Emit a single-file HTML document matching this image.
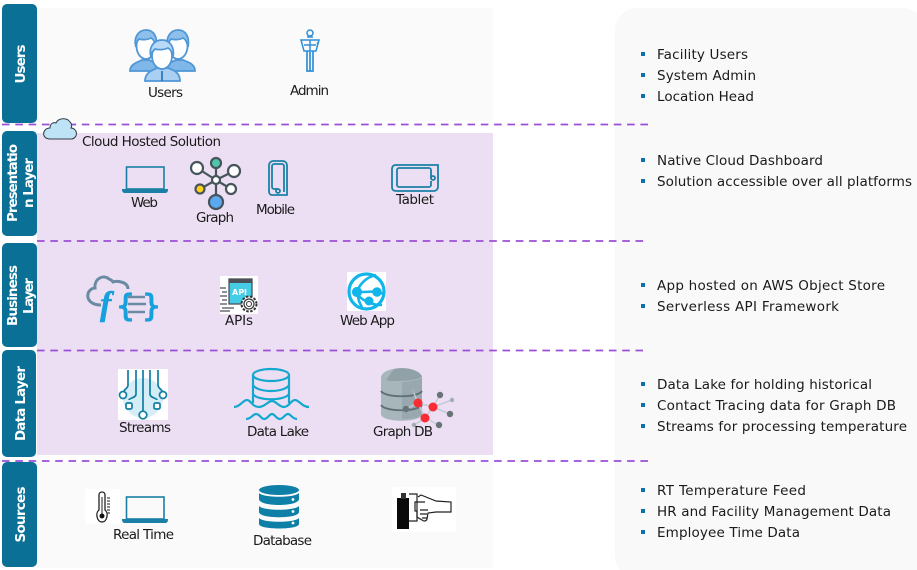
<!DOCTYPE html>
<html><head><meta charset="utf-8"><style>
html,body{margin:0;padding:0;background:#fff;width:917px;height:570px;overflow:hidden}
svg{display:block;filter:blur(.3px)}
text{font-family:"DejaVu Sans","Liberation Sans",sans-serif;font-size:13.5px;fill:#1a1a1a}
.t{fill:#fff;font-weight:bold;font-size:13.5px;text-anchor:middle}
.d{stroke:#9b4fd6;stroke-width:1.8;stroke-dasharray:7.6 5.7;fill:none}
.b{fill:#0a72a8}
</style></head><body>
<svg width="917" height="570" viewBox="0 0 917 570" xmlns="http://www.w3.org/2000/svg">
<rect x="37" y="8" width="456" height="113" fill="#fafafa"/>
<rect x="37" y="133" width="456" height="322" fill="#ecdff3"/>
<rect x="37" y="462" width="456" height="106" fill="#fafafa"/>
<rect x="615" y="8" width="310" height="570" rx="22" fill="#f9f9f9"/>

<rect x="2" y="4" width="35" height="119" rx="5" fill="#0b7095"/>
<rect x="2" y="131" width="35" height="105" rx="5" fill="#0b7095"/>
<rect x="2" y="243" width="35" height="104" rx="5" fill="#0b7095"/>
<rect x="2" y="350" width="34" height="107" rx="5" fill="#0b7095"/>
<rect x="2" y="462" width="35" height="105" rx="5" fill="#0b7095"/>
<text class="t" transform="translate(25,64) rotate(-90)" textLength="39">Users</text>
<text class="t" transform="translate(17,183) rotate(-90)" textLength="78">Presentatio</text>
<text class="t" transform="translate(33,183) rotate(-90)" textLength="50">n Layer</text>
<text class="t" transform="translate(17,295.500) rotate(-90)" textLength="61">Business</text>
<text class="t" transform="translate(33,296) rotate(-90)" textLength="36">Layer</text>
<text class="t" transform="translate(25,403.500) rotate(-90)" textLength="75">Data Layer</text>
<text class="t" transform="translate(25,514.500) rotate(-90)" textLength="56">Sources</text>

<line class="d" x1="2" y1="124.500" x2="648" y2="124.500"/>
<line class="d" x1="37" y1="241" x2="648" y2="241"/>
<line class="d" x1="37" y1="350.500" x2="643" y2="350.500"/>
<line class="d" x1="2" y1="461" x2="648" y2="461"/>

<!-- users icon -->
<g stroke="#4f97d6" stroke-width="1.800">
<path d="M130 71c0-7 8-9 12-11h7c5 2 12 4 12 11z" fill="#7fb7e8"/><ellipse cx="146" cy="46" rx="9.500" ry="13" fill="#fff"/><path d="M136 47c-3-10 3-17 10-17 7 0 12 6 10 17-1-6-3-8-5-9-4 2-9 2-12 1-2 2-3 4-3 8z" fill="#8fc0ec"/>
<path d="M164 71c0-7 8-9 12-11h7c5 2 12 4 12 11z" fill="#7fb7e8"/><ellipse cx="178" cy="46" rx="9.500" ry="13" fill="#fff"/><path d="M168 47c-3-10 3-17 10-17 7 0 12 6 10 17-1-6-3-8-5-9-4 2-9 2-12 1-2 2-3 4-3 8z" fill="#8fc0ec"/>
<path d="M145 81c0-9 8-11 12-13h11c5 2 12 4 12 13z" fill="#a9d0f3"/><ellipse cx="162" cy="56" rx="10" ry="13" fill="#fff"/><path d="M151 57c-3-11 4-17 11-17 7 0 13 6 11 17-1-6-3-8-5-9-4 2-10 2-13 1-2 2-4 4-4 8z" fill="#b9daf6"/>
<path d="M162 71v10" stroke="#2f78b8"/>
</g>
<!-- admin -->
<g fill="none" stroke="#2f8fd6" stroke-width="1.500">
<circle cx="310" cy="33" r="3"/><path d="M301 40h18l-3 11h-12zM307 37h6M310 40v11M304 45h12M319 41l-2 3"/>
<path d="M307 51v20h6V51M310 51v20" stroke-width="1.700"/>
</g>
<!-- cloud -->
<path d="M50 139c-9 0-8-11 0-11 0-5 4-6 6-5 2-5 11-6 14-1 2 2 2 4 1 6 6 0 8 9 1 11z" fill="#bfe3f6" stroke="#333c44" stroke-width="1"/>
<!-- laptop -->
<g id="lap"><rect x="126.500" y="167" width="37.500" height="22" fill="none" stroke="#1a80a6" stroke-width="1.600"/><path d="M122 189h46c0 3-1 4-3 4h-40c-2 0-3-1-3-4z" fill="#1a80a6"/></g>
<use href="#lap" y="330"/>
<!-- graph -->
<g stroke="#47555b" stroke-width="2.200" fill="#fff">
<path d="M216 180L197 168M216 180L216 163M216 180L234 171M216 180L231 189M216 180L216 202M216 180L200 189"/>
<circle cx="197" cy="168" r="6"/><circle cx="216" cy="163" r="5" fill="#4fc5ae"/><circle cx="234" cy="171" r="6"/><circle cx="231" cy="189" r="5"/><circle cx="216" cy="202" r="7" fill="#5aa9f0"/><circle cx="200" cy="189" r="4.500" fill="#ffd21a"/><circle cx="216" cy="180" r="4"/>
</g>
<!-- mobile, tablet -->
<g fill="none" stroke="#1a80a6" stroke-width="1.800">
<path d="M287 195h-15c-2 0-3-2-3-4v-26c0-2 2-4 4-4h10c2 0 4 2 4 4z"/><path d="M284 192v-26c0-1-1-2-2-2h-8c-1 0-2 1-2 2v21c0 1 1 2 2 2h4"/><circle cx="278" cy="191" r="2"/>
<path d="M438 165h-42c-3 0-4 2-4 4v18c0 3 2 4 4 4h38c2 0 4-2 4-4z"/><path d="M431 178v-8c0-1-1-2-2-2h-30c-1 0-2 1-2 2v15c0 1 1 2 2 2h30c1 0 2-1 2-2v-4"/><circle cx="433" cy="178" r="2"/>
</g>
<!-- function -->
<path d="M101 305c-17 0-16-16-6-17-1-9 8-14 14-9 3 1 3 2 4 3 3-1 15-1 15 7" fill="none" stroke="#6a8ba3" stroke-width="3"/>
<text x="100" y="315" style="font-size:34px;font-style:italic;font-weight:bold;fill:#16a0dc;stroke:#16a0dc;stroke-width:.5;font-family:'Liberation Serif',serif">f</text>
<text x="116" y="316" style="font-size:30px;fill:#16a0dc;stroke:#16a0dc;stroke-width:1.200">{</text>
<text x="142" y="316" style="font-size:30px;fill:#16a0dc;stroke:#16a0dc;stroke-width:1.200">}</text>
<path d="M128 297h17M128 304h18M128 312h17" stroke="#6a8ba3" stroke-width="2.500"/>
<!-- API -->
<rect x="220" y="276" width="38" height="38" fill="#fff"/>
<rect x="229" y="279" width="23" height="25" fill="#45cde8" stroke="#4b5157" stroke-width="1.300"/>
<rect x="229" y="279" width="23" height="4" fill="#4b5157"/>
<text x="232" y="295" style="font-size:8px;font-weight:bold;fill:#fff">API</text>
<path d="M220 288h6M222 292h5M220 296h7M222 300h5M220 304h7M222 308h12M220 311h10" stroke="#4b5157" stroke-width="1.300"/>
<circle cx="249" cy="304" r="7.500" fill="#fff" stroke="#333" stroke-width="2" stroke-dasharray="2.500 1.500"/><circle cx="249" cy="304" r="5" fill="#fff" stroke="#333" stroke-width="1.200"/><circle cx="249" cy="304" r="2.500" fill="#fff" stroke="#333"/>
<!-- web app -->
<rect x="347" y="272" width="39" height="39" fill="#fff"/>
<g fill="none" stroke="#12b5ea" stroke-width="2.600">
<circle cx="366.500" cy="291.500" r="17.500" stroke-width="3.200"/>
<path d="M357 292c3-9 10-15 19-17M357 292c4 0 14 0 20-1 3 3 5 2 8 3M358 295c3 4 9 7 13 8 3 2 8 2 11 2M358 295c0 5 2 9 4 12"/>
<circle cx="357" cy="292" r="3.800" fill="#12b5ea"/><circle cx="377" cy="292" r="3.500" fill="#12b5ea"/><circle cx="369" cy="301" r="3.200" fill="#12b5ea"/>
</g>
<!-- streams -->
<rect x="118" y="369" width="50" height="51" fill="#fff"/>
<ellipse cx="143" cy="398" rx="20" ry="20" fill="#d4edf6"/>
<g fill="none" stroke="#127ea3" stroke-width="1.700">
<path d="M128 370v15c0 4-5 4-5 9M136 370v24c0 4-7 4-7 6M143 370v42M150 370v24c0 4 7 4 7 6M158 370v15c0 4 5 4 5 9"/>
<circle cx="123" cy="395" r="3.500" fill="#fff"/><rect x="126" y="403" width="6" height="6" rx="1.500" fill="#fff"/><circle cx="143" cy="415" r="3.800" fill="#fff"/><rect x="154" y="403" width="6" height="6" rx="1.500" fill="#fff"/><circle cx="163" cy="395" r="3.500" fill="#fff"/>
</g>
<!-- data lake -->
<g fill="none" stroke="#15a8cf" stroke-width="2.200">
<ellipse cx="271" cy="375" rx="18" ry="6"/>
<path d="M253 375v28M289 375v28M253 385c4 8 32 8 36 0M253 394c4 7 32 7 36 0"/>
<path d="M234 407C240 407 243 400 247 400C251 400 252 407 259 407C265 407 268 401 272 401C276 401 279 407 284 407C289 407 291 400 295 400C299 400 302 407 309 407"/>
<path d="M246 419C251 419 253 414 256 414C260 414 261 419 264 419C268 419 269 414 272 414C275 414 276 419 280 419C283 419 285 414 288 414C291 414 292 419 297 419"/>
</g>
<!-- graph db -->
<path d="M381 378c0-13 41-13 41 0v36c0 9-41 9-41 0z" fill="#a7b6bb"/>
<path d="M394 369c9-2 22-1 28 7-1 3-13 5-27 5-4 0-6 0-9-1z" fill="#90a1a7"/>
<path d="M402 382v37c10 0 20-2 20-5v-36c-4 2-14 4-20 4z" fill="#98a8ae"/>
<path d="M381 391c4 7 37 7 41 0M381 405c4 7 37 7 41 0" fill="none" stroke="#5e7077" stroke-width="1.800"/>
<g stroke="#c3cad6" stroke-width="1.500" fill="none"><path d="M406 409l12-6 15 4 7-12M433 407l17 7M433 407l19-7M418 403l-5-12M425 418l14 7M425 418l-11 7M418 403l7 15 8-11"/></g>
<g fill="#687378"><circle cx="406" cy="409" r="3.200"/><circle cx="440" cy="395" r="3.200"/><circle cx="450" cy="414" r="3.200"/><circle cx="439" cy="425" r="3.200"/></g>
<g fill="#a3adb1"><circle cx="413" cy="391" r="2.200"/><circle cx="452" cy="400" r="2.200"/><circle cx="414" cy="425" r="2.200"/></g>
<g fill="#f82d33"><circle cx="418" cy="403" r="4.500"/><circle cx="433" cy="407" r="4.500"/><circle cx="425" cy="418" r="4.500"/></g>
<!-- thermometer -->
<rect x="85" y="489" width="35" height="35" fill="#fff"/>
<path d="M99 510v-15c0-4 6-4 6 0v15c4 3 2 12-3 12s-7-9-3-12z" fill="#fff" stroke="#222" stroke-width="1.300"/>
<circle cx="102" cy="516" r="2.500" fill="#111"/><path d="M102 497v17" stroke="#222"/>
<path d="M107 498h3M107 501h3M107 504h3M107 507h3M107 510h3M107 513h3" stroke="#444" stroke-width="1.200"/>
<!-- database -->
<g fill="#0e7fa6">
<ellipse cx="279" cy="490" rx="20" ry="5"/>
<path d="M259 493c4 5 36 5 40 0v6c0 8-40 8-40 0z"/>
<path d="M259 506c4 5 36 5 40 0v6c0 7-40 7-40 0z"/>
<path d="M259 518c4 5 36 5 40 0v6c0 6-40 6-40 0z"/>
</g>
<g fill="#fff"><circle cx="293" cy="499.500" r="1.400"/><circle cx="293" cy="511.500" r="1.400"/><circle cx="293" cy="523" r="1.400"/></g>
<!-- hand -->
<rect x="392" y="487" width="64" height="45" fill="#fff"/>
<rect x="397" y="498" width="12" height="31" fill="#0a0a0a"/><rect x="401" y="493" width="5" height="6" fill="#333"/>
<g fill="none" stroke="#222" stroke-width="1.200"><path d="M409 494h8v27h-8"/><path d="M418 497l3-2 15 6 15 1v10h-15l-8 1-1 6c-1 3-4 2-5 1l-5-3v-6h-2v-9h10"/><path d="M420 510h8M420 514h7M422 518h5"/></g>

<!-- labels -->
<text x="148" y="97" textLength="35">Users</text>
<text x="290" y="95" textLength="39">Admin</text>
<text x="82" y="146" textLength="139">Cloud Hosted Solution</text>
<text x="131" y="207" textLength="27">Web</text>
<text x="196" y="222" textLength="38">Graph</text>
<text x="256" y="214" textLength="39">Mobile</text>
<text x="396" y="204" textLength="38">Tablet</text>
<text x="225" y="325" textLength="28">APIs</text>
<text x="340" y="325" textLength="55">Web App</text>
<text x="119" y="432" textLength="52">Streams</text>
<text x="247" y="436" textLength="62">Data Lake</text>
<text x="373" y="436" textLength="60">Graph DB</text>
<text x="113" y="539" textLength="61">Real Time</text>
<text x="253" y="545" textLength="59">Database</text>

<text x="657" y="59" textLength="91">Facility Users</text>
<text x="657" y="80" textLength="99">System Admin</text>
<text x="657" y="101" textLength="97">Location Head</text>
<text x="657" y="165" textLength="166">Native Cloud Dashboard</text>
<text x="657" y="186" textLength="255">Solution accessible over all platforms</text>
<text x="657" y="290" textLength="228">App hosted on AWS Object Store</text>
<text x="657" y="311" textLength="182">Serverless API Framework</text>
<text x="657" y="389" textLength="215">Data Lake for holding historical</text>
<text x="657" y="410" textLength="239">Contact Tracing data for Graph DB</text>
<text x="657" y="431" textLength="250">Streams for processing temperature</text>
<text x="657" y="495" textLength="149">RT Temperature Feed</text>
<text x="657" y="516" textLength="234">HR and Facility Management Data</text>
<text x="657" y="537" textLength="143">Employee Time Data</text>
<g class="b">
<rect x="641" y="52" width="4" height="4"/><rect x="641" y="73" width="4" height="4"/><rect x="641" y="94" width="4" height="4"/>
<rect x="641" y="158" width="4" height="4"/><rect x="641" y="179" width="4" height="4"/>
<rect x="641" y="283" width="4" height="4"/><rect x="641" y="304" width="4" height="4"/>
<rect x="641" y="382" width="4" height="4"/><rect x="641" y="403" width="4" height="4"/><rect x="641" y="424" width="4" height="4"/>
<rect x="641" y="488" width="4" height="4"/><rect x="641" y="509" width="4" height="4"/><rect x="641" y="530" width="4" height="4"/>
</g>
</svg>
</body></html>
